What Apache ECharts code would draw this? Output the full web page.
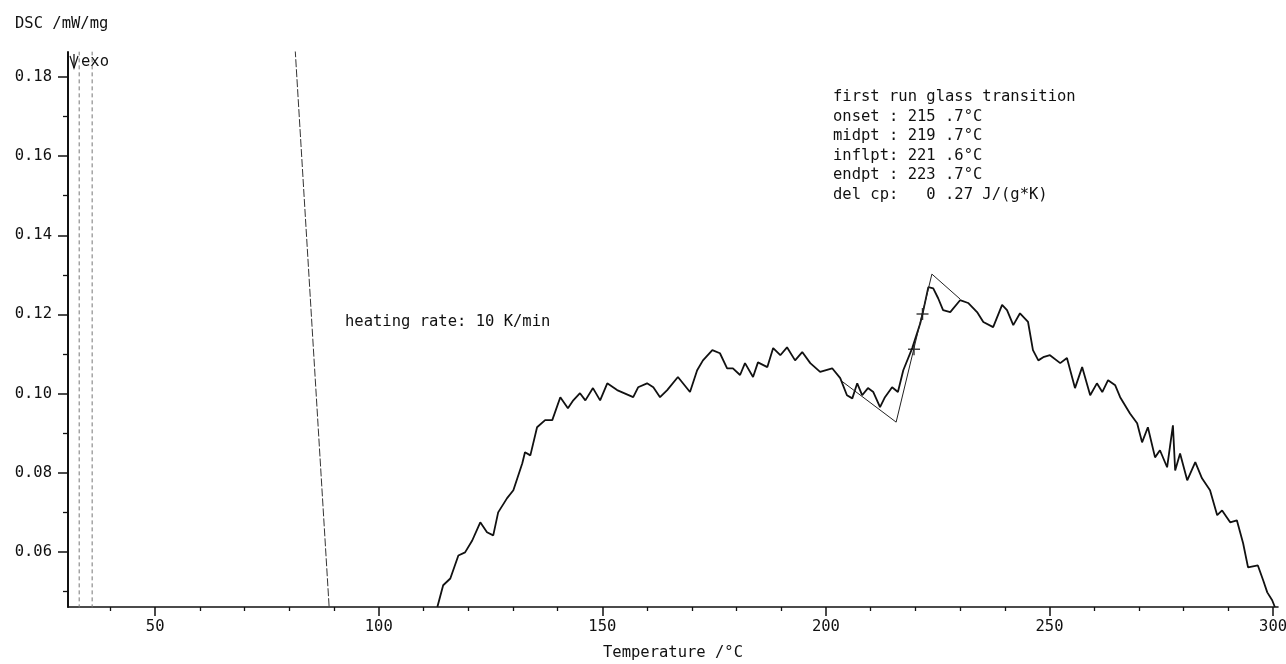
<!DOCTYPE html>
<html>
<head>
<meta charset="utf-8">
<title>DSC first run glass transition</title>
<script src="https://cdn.jsdelivr.net/npm/echarts@6/dist/echarts.min.js"></script>
<style>
  html, body { margin: 0; padding: 0; background: #fff; }
  #chart { width: 1286px; height: 664px; }
</style>
</head>
<body>
<div id="chart"></div>
<script>
// --- data ---
const curveT = [
  113.1, 114.4, 116.0, 117.8, 119.3, 120.9, 122.7, 124.2, 125.6, 126.7,
  128.7, 130.1, 132.1, 132.7, 133.9, 135.4, 137.2, 138.8, 140.6, 142.3,
  143.5, 145.0, 146.2, 147.9, 149.5, 151.1, 153.3, 156.9, 158.0, 160.0,
  161.4, 162.9, 164.5, 166.9, 169.6, 171.2, 172.5, 174.6, 176.3, 177.9,
  179.2, 180.8, 181.9, 183.7, 184.8, 186.9, 188.2, 189.8, 191.3, 193.1,
  194.7, 196.5, 198.7, 201.4, 203.2, 204.7, 205.9, 207.0, 208.1, 209.4,
  210.6, 212.1, 213.2, 214.8, 216.1, 217.3, 219.3, 221.1, 221.7, 222.9,
  224.0, 225.1, 226.2, 227.8, 230.0, 231.8, 233.8, 235.2, 237.4, 239.4,
  240.5, 241.9, 243.4, 245.2, 246.3, 247.5, 248.6, 250.1, 252.4, 253.9,
  255.7, 257.3, 259.1, 260.6, 261.8, 263.1, 264.7, 265.8, 268.0, 269.6,
  270.7, 272.0, 273.6, 274.7, 276.3, 277.6, 278.1, 279.2, 280.8, 282.6,
  284.1, 285.9, 287.5, 288.6, 290.4, 291.9, 293.3, 294.4, 296.6, 297.8,
  298.7, 299.8, 300.4
];
const curveV = [
  0.0461, 0.0516, 0.0533, 0.0591, 0.0599, 0.0629, 0.0675, 0.0650, 0.0642, 0.0700,
  0.0736, 0.0756, 0.0824, 0.0852, 0.0844, 0.0915, 0.0933, 0.0933, 0.0991, 0.0963,
  0.0983, 0.1001, 0.0983, 0.1014, 0.0983, 0.1026, 0.1009, 0.0991, 0.1016, 0.1026,
  0.1016, 0.0991, 0.1009, 0.1042, 0.1004, 0.1059, 0.1084, 0.1110, 0.1102, 0.1064,
  0.1064, 0.1047, 0.1077, 0.1042, 0.1079, 0.1067, 0.1115, 0.1097, 0.1117, 0.1084,
  0.1105, 0.1077, 0.1055, 0.1064, 0.1039, 0.0996, 0.0988, 0.1026, 0.0996, 0.1014,
  0.1004, 0.0966, 0.0991, 0.1016, 0.1004, 0.1059, 0.1115, 0.1178, 0.1206, 0.1269,
  0.1266, 0.1241, 0.1211, 0.1206, 0.1236, 0.1229, 0.1206, 0.1181, 0.1168, 0.1224,
  0.1211, 0.1173, 0.1203, 0.1181, 0.1110, 0.1084, 0.1092, 0.1097, 0.1077, 0.1090,
  0.1014, 0.1067, 0.0996, 0.1026, 0.1004, 0.1034, 0.1021, 0.0991, 0.0950, 0.0925,
  0.0877, 0.0915, 0.0839, 0.0857, 0.0814, 0.0920, 0.0806, 0.0849, 0.0781, 0.0827,
  0.0786, 0.0756, 0.0693, 0.0705, 0.0675, 0.0680, 0.0622, 0.0561, 0.0566, 0.0528,
  0.0498, 0.0478, 0.0461
];

// off-scale start-up transients (pen runs past the frame)
const transientT = [[33.0, 33.0], [35.9, 35.9], [81.3, 88.9]];
const transientV = [[0.19, 0.04], [0.19, 0.04], [0.1870, 0.0461]];

// glass transition construction: tangent, onset, endpoint, tangent
const constructT = [203.6, 215.7, 223.7, 230.0];
const constructV = [0.1031, 0.0928, 0.1302, 0.1239];

// midpoint and inflection markers
const markT = [219.7, 221.6];
const markV = [0.1112, 0.1201];

const xMajor = [50, 100, 150, 200, 250, 300];
const xMinor = [40, 60, 70, 80, 90, 110, 120, 130, 140, 160, 170, 180, 190,
  210, 220, 230, 240, 260, 270, 280, 290];
const yMajor = [0.06, 0.08, 0.10, 0.12, 0.14, 0.16, 0.18];
const yMinor = [0.05, 0.07, 0.09, 0.11, 0.13, 0.15, 0.17];

const resultLines = [
  'first run glass transition',
  'onset : 215 .7°C',
  'midpt : 219 .7°C',
  'inflpt: 221 .6°C',
  'endpt : 223 .7°C',
  'del cp:   0 .27 J/(g*K)'
];

const FAMILY = '"DejaVu Sans Mono", monospace';
const FONT = '15.5px ' + FAMILY;
const INK = '#111';
const X_MIN = 30.5, X_MAX = 301.1;
const Y_MIN = 0.0461, Y_MAX = 0.1863;

const zip = (a, b) => a.map((v, i) => [v, b[i]]);

const chart = echarts.init(document.getElementById('chart'));

const transientSeries = transientT.map((ts, k) => ({
    type: 'line',
    xAxisIndex: 0,
    yAxisIndex: 0,
    data: zip(ts, transientV[k]),
    symbol: 'none',
    silent: true,
    clip: true,
    lineStyle: { color: k === 2 ? '#333' : '#777', width: 1, type: k === 2 ? [8, 2] : [4, 3] }
}));

const textBlock = [
    { text: 'DSC /mW/mg', x: 15, y: 24 },
    { text: 'exo', x: 81, y: 62 },
    { text: 'heating rate: 10 K/min', x: 345, y: 322 }
];
resultLines.forEach((t, i) => {
    textBlock.push({ text: t, x: 833, y: 97 + i * 19.6 });
});

chart.setOption({
    backgroundColor: '#fff',
    animation: false,
    grid: { left: 68, right: 8, top: 52, bottom: 57, containLabel: false, outerBoundsMode: 'none' },
    xAxis: [
        {
            type: 'value',
            min: X_MIN,
            max: X_MAX,
            position: 'bottom',
            name: 'Temperature /°C',
            nameLocation: 'middle',
            nameGap: 38,
            nameTextStyle: { color: INK, fontFamily: FAMILY, fontSize: 15.5 },
            axisLine: { show: true, onZero: false, lineStyle: { color: INK, width: 1.6 } },
            axisTick: { show: true, customValues: xMajor, length: 9, lineStyle: { color: INK, width: 1.5 } },
            axisLabel: { customValues: xMajor, margin: 12, color: INK, fontFamily: FAMILY, fontSize: 15.5 },
            splitLine: { show: false }
        },
        {
            type: 'value',
            min: X_MIN,
            max: X_MAX,
            position: 'bottom',
            axisLine: { show: false, onZero: false },
            axisTick: { show: true, customValues: xMinor, length: 4, lineStyle: { color: INK, width: 1.3 } },
            axisLabel: { show: false },
            splitLine: { show: false }
        }
    ],
    yAxis: [
        {
            type: 'value',
            min: Y_MIN,
            max: Y_MAX,
            position: 'left',
            axisLine: { show: true, onZero: false, lineStyle: { color: INK, width: 2 } },
            axisTick: { show: true, customValues: yMajor, length: 10, lineStyle: { color: INK, width: 1.5 } },
            axisLabel: {
                customValues: yMajor, margin: 16, color: INK, fontFamily: FAMILY, fontSize: 15.5,
                formatter: v => v.toFixed(2)
            },
            splitLine: { show: false }
        },
        {
            type: 'value',
            min: Y_MIN,
            max: Y_MAX,
            position: 'left',
            axisLine: { show: false, onZero: false },
            axisTick: { show: true, customValues: yMinor, length: 5, lineStyle: { color: INK, width: 1.3 } },
            axisLabel: { show: false },
            splitLine: { show: false }
        }
    ],
    series: [
        ...transientSeries,
        {
            name: 'DSC',
            type: 'line',
            xAxisIndex: 0,
            yAxisIndex: 0,
            data: zip(curveT, curveV),
            symbol: 'none',
            clip: true,
            lineStyle: { color: INK, width: 1.8 }
        },
        {
            name: 'construction',
            type: 'line',
            xAxisIndex: 0,
            yAxisIndex: 0,
            data: zip(constructT, constructV),
            symbol: 'none',
            lineStyle: { color: '#222', width: 1 }
        },
        {
            name: 'markers',
            type: 'scatter',
            xAxisIndex: 0,
            yAxisIndex: 0,
            data: zip(markT, markV),
            symbol: 'path://M5.25,0H6.75V5.25H12V6.75H6.75V12H5.25V6.75H0V5.25H5.25Z',
            symbolSize: 12,
            itemStyle: { color: INK }
        }
    ],
    graphic: [
        ...textBlock.map(t => ({
            type: 'text',
            x: t.x,
            y: t.y,
            silent: true,
            style: { text: t.text, font: FONT, fill: INK, verticalAlign: 'middle' }
        })),
        {
            // exo arrow
            type: 'polyline',
            silent: true,
            shape: { points: [[70, 56], [74, 68], [78, 56]] },
            style: { stroke: INK, lineWidth: 1.2, fill: null }
        },
        {
            type: 'line',
            silent: true,
            shape: { x1: 74, y1: 54, x2: 74, y2: 68 },
            style: { stroke: INK, lineWidth: 1.2 }
        }
    ]
});
</script>
</body>
</html>
